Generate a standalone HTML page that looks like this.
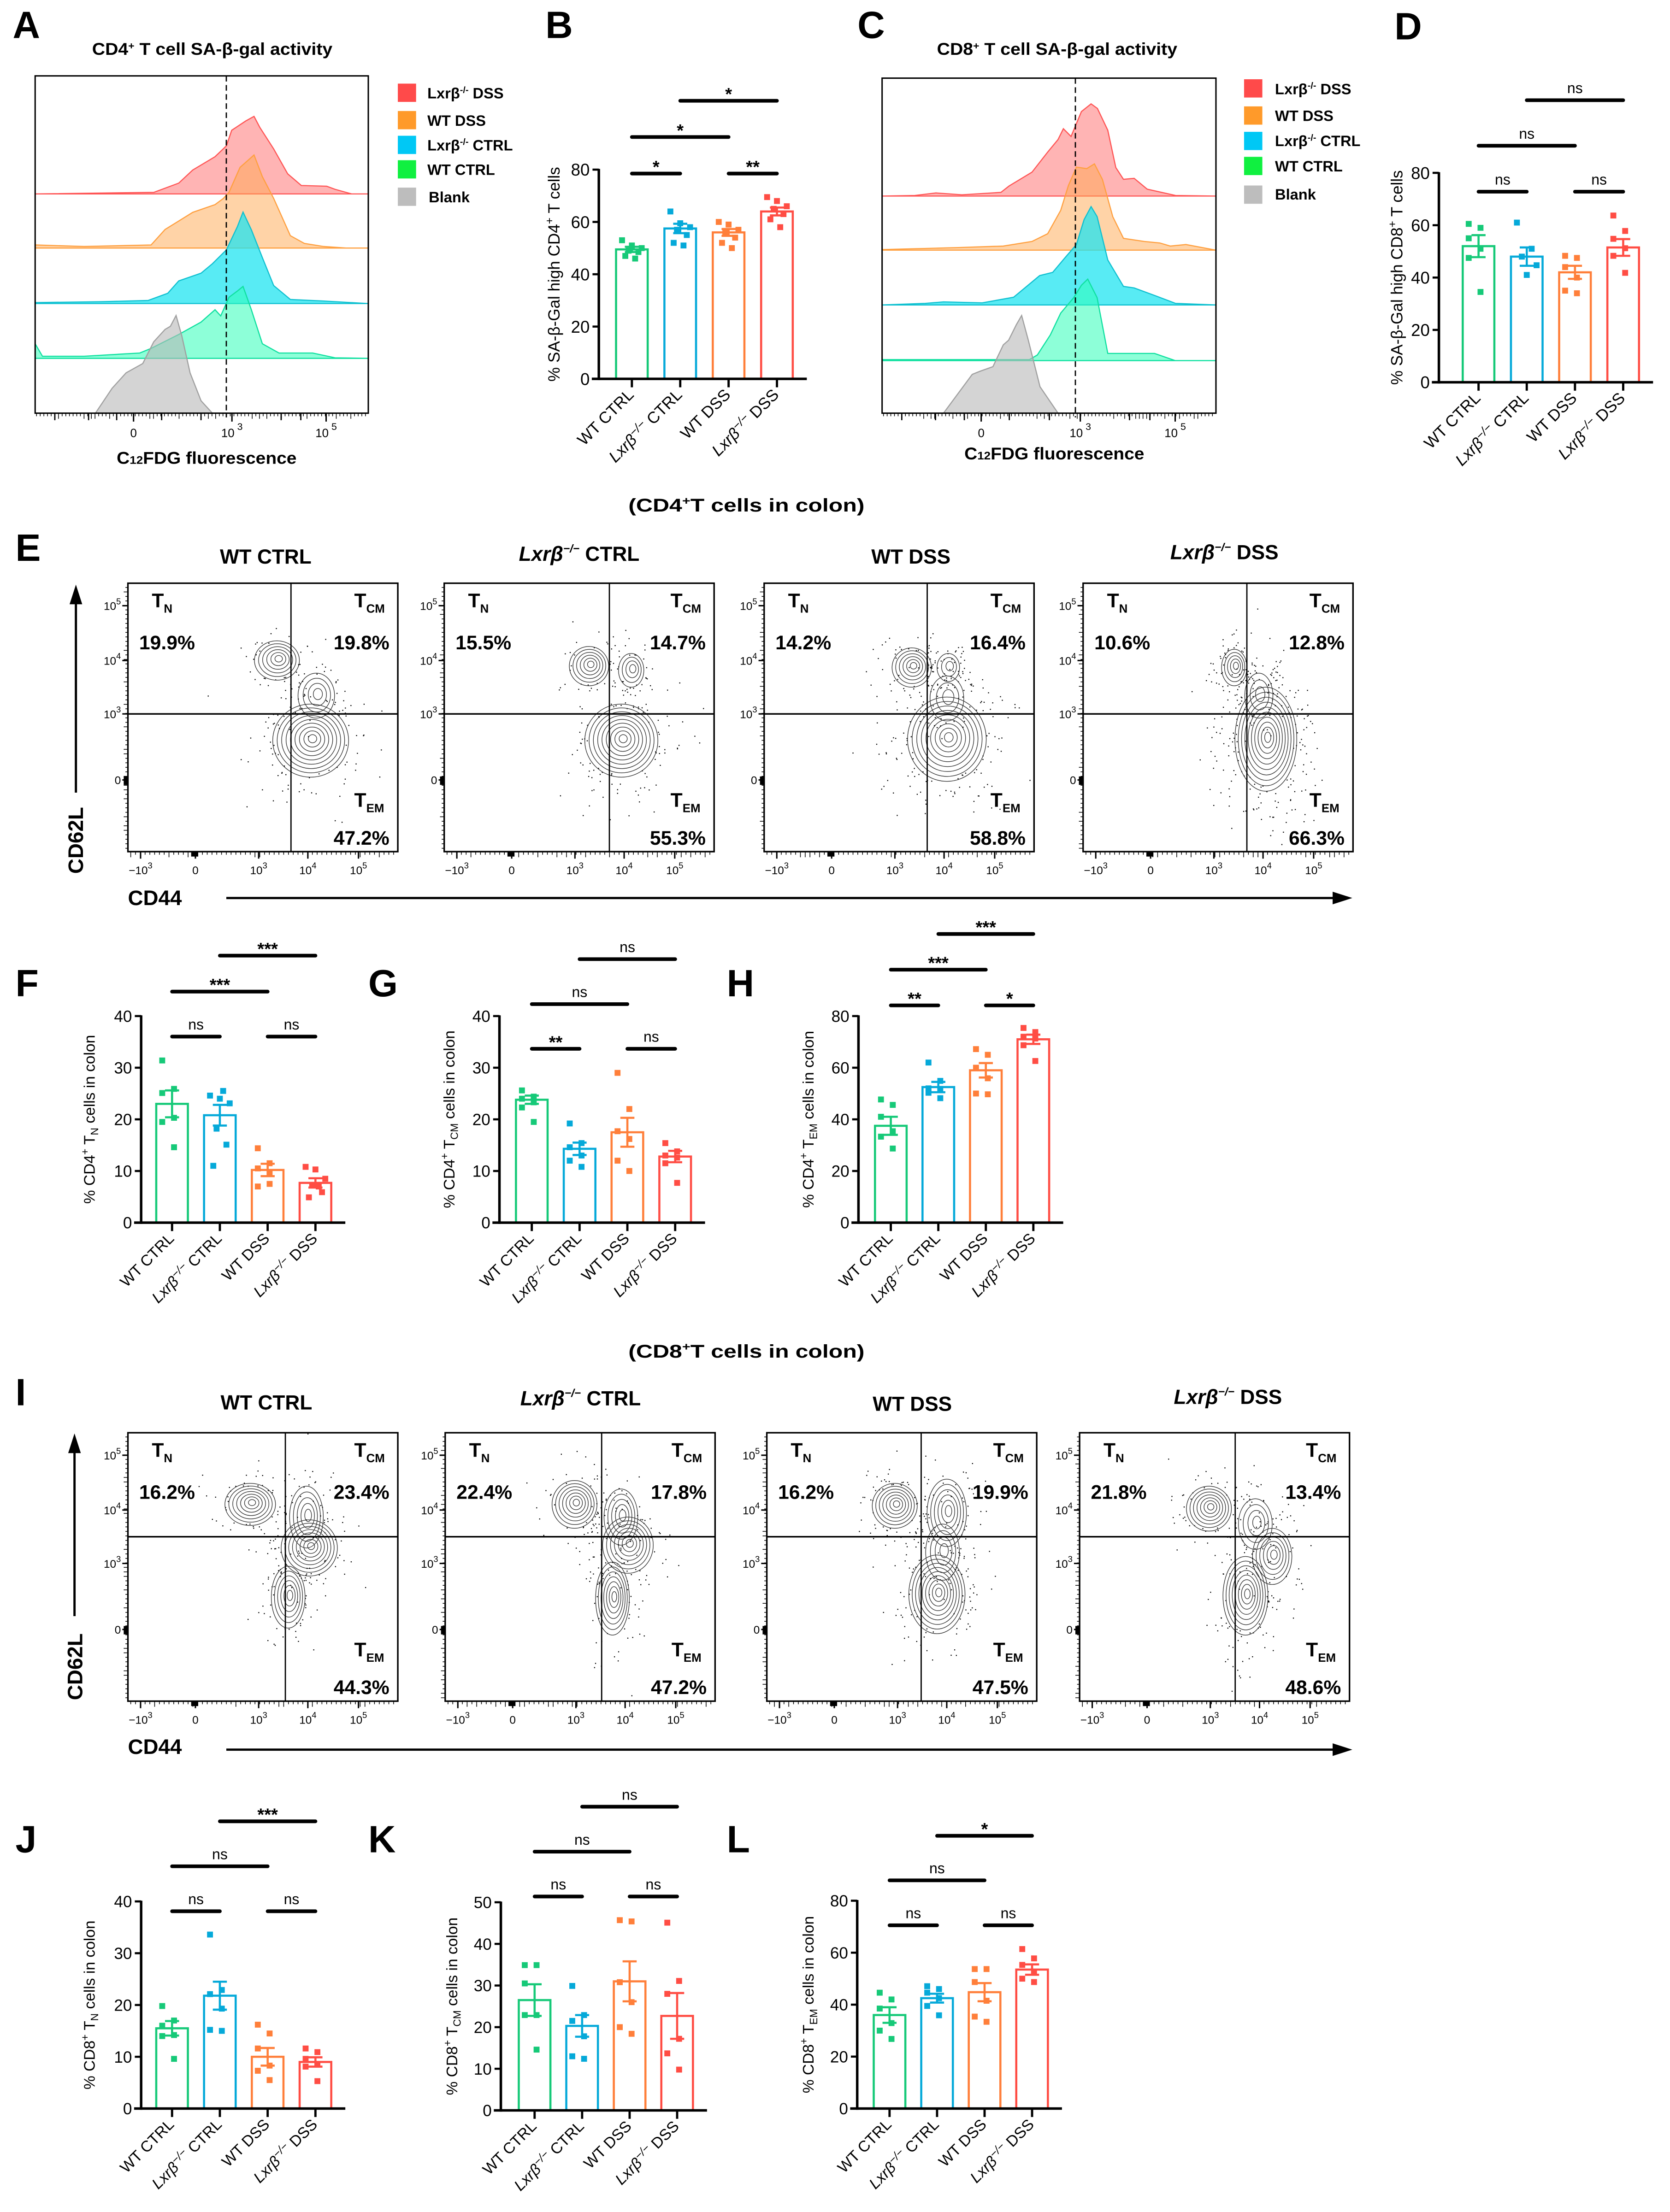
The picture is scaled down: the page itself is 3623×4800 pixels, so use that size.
<!DOCTYPE html>
<html><head><meta charset="utf-8">
<style>
html,body{margin:0;padding:0;background:#fff;}
svg{display:block;font-family:"Liberation Sans",Arial,sans-serif;}
.b{font-weight:bold;}
</style></head>
<body>
<svg id="fig" xmlns="http://www.w3.org/2000/svg" width="3623" height="4800" viewBox="0 0 1188 1574" preserveAspectRatio="none">
<rect x="0" y="0" width="1188" height="1574" fill="#fff"/>
<defs>
<clipPath id="clipA"><rect x="25" y="54" width="237" height="240"/></clipPath>
<clipPath id="clipC"><rect x="627.5" y="55.6" width="237.5" height="238.4"/></clipPath>
</defs>
<g class="b" font-size="27">
<text x="9" y="27">A</text>
<text x="388" y="27">B</text>
<text x="610" y="27">C</text>
<text x="992" y="28">D</text>
<text x="11" y="399">E</text>
<text x="11" y="709">F</text>
<text x="262" y="709">G</text>
<text x="517" y="709">H</text>
<text x="11" y="1000">I</text>
<text x="11" y="1318">J</text>
<text x="262" y="1318">K</text>
<text x="517" y="1318">L</text>
</g>
<text class="b" x="151" y="39" font-size="12" text-anchor="middle" textLength="171" lengthAdjust="spacingAndGlyphs">CD4<tspan font-size="7" dy="-4">+</tspan><tspan dy="4"> T cell SA-β-gal activity</tspan></text>
<text class="b" x="752" y="39" font-size="12" text-anchor="middle" textLength="171" lengthAdjust="spacingAndGlyphs">CD8<tspan font-size="7" dy="-4">+</tspan><tspan dy="4"> T cell SA-β-gal activity</tspan></text>
<text class="b" x="147" y="330" font-size="12" text-anchor="middle" textLength="128" lengthAdjust="spacingAndGlyphs">C<tspan font-size="8">12</tspan>FDG fluorescence</text>
<text class="b" x="750" y="327" font-size="12" text-anchor="middle" textLength="128" lengthAdjust="spacingAndGlyphs">C<tspan font-size="8">12</tspan>FDG fluorescence</text>
<g class="b" font-size="10.7">
<rect x="283" y="59.5" width="13" height="13" fill="#ff4a4a"/>
<text x="304" y="70">Lxrβ<tspan font-size="6.5" dy="-4">-/-</tspan><tspan dy="4"> DSS</tspan></text>
<rect x="283" y="79" width="13" height="13" fill="#ff9a2a"/>
<text x="304" y="89.5">WT DSS</text>
<rect x="283" y="96.6" width="13" height="13" fill="#00c8f5"/>
<text x="304" y="107">Lxrβ<tspan font-size="6.5" dy="-4">-/-</tspan><tspan dy="4"> CTRL</tspan></text>
<rect x="283" y="114" width="13" height="13" fill="#10f040"/>
<text x="304" y="124.5">WT CTRL</text>
<rect x="283" y="133.5" width="13" height="13" fill="#bdbdbd"/>
<text x="305" y="144">Blank</text>
</g>
<g class="b" font-size="10.7">
<rect x="885" y="56.4" width="13" height="13" fill="#ff4a4a"/>
<text x="907" y="67">Lxrβ<tspan font-size="6.5" dy="-4">-/-</tspan><tspan dy="4"> DSS</tspan></text>
<rect x="885" y="75.7" width="13" height="13" fill="#ff9a2a"/>
<text x="907" y="86">WT DSS</text>
<rect x="885" y="93.8" width="13" height="13" fill="#00c8f5"/>
<text x="907" y="104">Lxrβ<tspan font-size="6.5" dy="-4">-/-</tspan><tspan dy="4"> CTRL</tspan></text>
<rect x="885" y="111.6" width="13" height="13" fill="#10f040"/>
<text x="907" y="122">WT CTRL</text>
<rect x="885" y="132" width="13" height="13" fill="#bdbdbd"/>
<text x="907" y="142">Blank</text>
</g>
<text class="b" x="531" y="364" font-size="13" text-anchor="middle" textLength="168" lengthAdjust="spacingAndGlyphs">(CD4<tspan font-size="8" dy="-5">+</tspan><tspan dy="5">T cells in colon)</tspan></text>
<text class="b" x="531" y="966" font-size="13" text-anchor="middle" textLength="168" lengthAdjust="spacingAndGlyphs">(CD8<tspan font-size="8" dy="-5">+</tspan><tspan dy="5">T cells in colon)</tspan></text>
<g class="b" font-size="14.5" text-anchor="middle">
<text x="189" y="401">WT CTRL</text>
<text x="412" y="399"><tspan font-style="italic">Lxrβ</tspan><tspan font-size="8" dy="-6" font-style="italic">−/−</tspan><tspan dy="6"> CTRL</tspan></text>
<text x="648" y="401">WT DSS</text>
<text x="871" y="398"><tspan font-style="italic">Lxrβ</tspan><tspan font-size="8" dy="-6" font-style="italic">−/−</tspan><tspan dy="6"> DSS</tspan></text>
</g>
<g class="b" font-size="14.5" text-anchor="middle">
<text x="189.5" y="1003">WT CTRL</text>
<text x="413" y="1000"><tspan font-style="italic">Lxrβ</tspan><tspan font-size="8" dy="-6" font-style="italic">−/−</tspan><tspan dy="6"> CTRL</tspan></text>
<text x="649" y="1004">WT DSS</text>
<text x="873.5" y="999"><tspan font-style="italic">Lxrβ</tspan><tspan font-size="8" dy="-6" font-style="italic">−/−</tspan><tspan dy="6"> DSS</tspan></text>
</g>
<g>
<line x1="54" y1="564" x2="54" y2="427" stroke="#000" stroke-width="1.6"/>
<polygon points="54,416 49.5,430 58.5,430" fill="#000"/>
<text class="b" font-size="15" text-anchor="middle" transform="translate(59,598) rotate(-90)">CD62L</text>
<text class="b" x="91" y="644" font-size="15">CD44</text>
<line x1="161" y1="639" x2="950" y2="639" stroke="#000" stroke-width="1.6"/>
<polygon points="962,639 948,634.5 948,643.5" fill="#000"/>
</g>
<g>
<line x1="53" y1="1150" x2="53" y2="1032" stroke="#000" stroke-width="1.6"/>
<polygon points="53,1020 48.5,1034 57.5,1034" fill="#000"/>
<text class="b" font-size="15" text-anchor="middle" transform="translate(58.5,1186) rotate(-90)">CD62L</text>
<text class="b" x="91" y="1248" font-size="15">CD44</text>
<line x1="161" y1="1245" x2="950" y2="1245" stroke="#000" stroke-width="1.6"/>
<polygon points="962,1245 948,1240.5 948,1249.5" fill="#000"/>
</g>
</svg>
<script>
const groupNames = ['WT CTRL', 'Lxrβ−/− CTRL', 'WT DSS', 'Lxrβ−/− DSS'];
const groupColors = ['#16c978', '#05a9d9', '#ff7f3a', '#ff4d44'];

const bMeans = [49.5, 57.5, 56, 64];
const bSems = [1, 1.8, 1.3, 1.5];
const bPts = [[53,51,50,49,48.5,47,46],[64,59.5,58,57,55,52,51],[60,59,57,56,54,52,50],[69.5,68,66,65,63,61,58]];
const dMeans = [52, 48, 42, 51.5];
const dSems = [4.2, 3.5, 2.5, 3.2];
const dPts = [[60.5,59,55,51,47.5,34.5],[61,51,48,44.7,41],[48.3,47.5,44,40,35,34],[63.7,57.8,54.8,51.2,48.3,41.8]];
const fMeans = [23, 20.8, 10.2, 7.7];
const fSems = [2.6, 2, 1.2, 0.9];
const fPts = [[31.4,25.9,25.1,20.3,19.5,14.6],[24.6,24,23.1,18.2,15.1,11,25.5],[14.4,11.5,10.5,9.5,7,7.5],[10.8,10.3,8.5,7.2,5.9,4.9,7]];
const gMeans = [23.8, 14.3, 17.5, 12.8];
const gSems = [0.8, 1.2, 2.8, 1.1];
const gPts = [[25.6,24.4,24,23.3,22.3,19.5],[19.2,15.4,14.6,13,12,10.8],[29,22,17.7,16.2,12,10],[15.4,13.8,13,12.6,11.5,7.7]];
const hMeans = [37.5, 52.5, 59, 71];
const hSems = [3.5, 2, 2.8, 1.8];
const hPts = [[47.7,45.6,41,35.4,33.3,28.7],[62,54.9,52,51.8,50.3,48.2],[67.2,65,60,55.9,50,49.7],[75.4,73.8,72,71.3,68.7,62.6]];
const jMeans = [15.5, 21.8, 10, 9];
const jSems = [1.4, 2.7, 1.7, 0.9];
const jPts = [[19.8,17,16,14.2,14,9.6],[33.6,22.9,22.1,19.3,15.2,15],[16.2,14.5,11.6,8.3,7.3,5.5],[11.6,10.9,9.6,8.6,8.1,5.3]];
const kMeans = [26.5, 20.3, 31, 22.7];
const kSems = [3.8, 2.6, 4.8, 5.5];
const kPts = [[34.9,34.9,30.5,22.9,22.9,14.6],[29.9,22.9,21.5,17.8,13,12.4],[45.7,45.4,30.8,26,20,18.4],[45.1,31.1,28,17.2,13.7,9.8]];
const lMeans = [36, 42.5, 44.8, 53.5];
const lSems = [3, 1.7, 3.5, 2];
const lPts = [[44.6,42,38.5,32.9,30,26.8],[47.1,46,44.6,42.5,39.5,35.9],[53.7,53.7,48.7,41.5,35.4,33.4],[61.4,57.8,55.3,52.7,50,48.7]];

const bSig = [['0-1','*'],['2-3','**'],['0-2','*'],['1-3','*']];
const dSig = [['0-1','ns'],['2-3','ns'],['0-2','ns'],['1-3','ns']];
const fSig = [['0-1','ns'],['2-3','ns'],['0-2','***'],['1-3','***']];
const gSig = [['0-1','**'],['2-3','ns'],['0-2','ns'],['1-3','ns']];
const hSig = [['0-1','**'],['2-3','*'],['0-2','***'],['1-3','***']];
const jSig = [['0-1','ns'],['2-3','ns'],['0-2','ns'],['1-3','***']];
const kSig = [['0-1','ns'],['2-3','ns'],['0-2','ns'],['1-3','ns']];
const lSig = [['0-1','ns'],['2-3','ns'],['0-2','ns'],['1-3','*']];

const aRedT = [0,.356,.431,.473,.540,.574,.590,.632,.657,.674,.716,.758,.799,.875,.900,.950,1];
const aRedH = [0,1.1,7.7,17,26.5,34.2,45.3,51.9,55.2,47.5,32,14.3,6,5.5,3.3,0,0];
const aOrgT = [0,.147,.348,.390,.473,.540,.565,.582,.615,.657,.682,.716,.766,.808,.866,.933,1];
const aOrgH = [2.2,1.1,2.2,13.2,25.4,30.9,35.3,39.7,57.4,66.2,50.8,35.3,8.8,3.3,1.1,0,0];
const aCyaT = [0,.197,.339,.398,.431,.498,.532,.574,.607,.624,.649,.682,.716,.766,.866,1];
const aCyaH = [.7,1.3,2.2,7.3,16.1,21.6,28.3,38.2,54.7,65.1,52.5,32.7,12.8,2.9,1.8,0];
const aGrnT = [0,.022,.147,.314,.348,.431,.498,.540,.557,.582,.607,.624,.649,.682,.732,.833,.900,1];
const aGrnH = [10.4,1.5,1.5,3.8,7.1,17,25.8,34.6,30.2,43.5,47.9,51.2,34.6,10.4,3.8,3.8,.4,0];
const aGryT = [.181,.231,.273,.323,.356,.390,.406,.423,.440,.465,.498,.532];
const aGryH = [0,17.7,28.7,35.3,50.8,59.6,61.8,69.5,55.2,28.7,8.8,0];
const cRedT = [0,.098,.161,.239,.356,.380,.449,.496,.527,.543,.566,.597,.626,.645,.676,.700,.723,.755,.794,.879,1];
const cRedH = [0,.4,2.2,.9,2.6,7.1,17,31.3,40.2,47.9,42.4,60.1,65.6,62.3,46.8,20.3,11.9,12.6,4.9,.4,0];
const cOrgT = [0,.223,.363,.449,.496,.535,.558,.582,.613,.636,.660,.691,.723,.785,.832,.863,.910,1];
const cOrgH = [.4,1.8,2.9,6.2,11.7,28.3,45.9,59.1,58,61.4,50.3,23.8,8.4,6.2,5.1,2.9,4,0];
const cCyaT = [0,.129,.184,.300,.394,.472,.511,.550,.582,.605,.626,.644,.676,.723,.755,.818,.879,1];
const cCyaH = [0,1.1,2.2,1.5,5.5,20.9,23.2,34.2,43,60.7,70,62.9,32,13.2,12.1,6.6,1.1,0];
const cGrnT = [0,.441,.465,.504,.535,.574,.597,.616,.644,.676,.753,.816,.878,1];
const cGrnH = [.7,.7,4,18.3,33.8,44.8,53.6,58,44.8,5.1,5.1,5.1,0,0];
const cGryT = [.184,.270,.293,.332,.363,.379,.402,.418,.438,.473,.527];
const cGryH = [0,27.6,29.8,33.1,48.6,51.9,62.9,69.5,51.9,18.8,0];

const ePct = [['19.9%','19.8%','47.2%'],['15.5%','14.7%','55.3%'],['14.2%','16.4%','58.8%'],['10.6%','12.8%','66.3%']];
const iPct = [['16.2%','23.4%','44.3%'],['22.4%','17.8%','47.2%'],['16.2%','19.9%','47.5%'],['21.8%','13.4%','48.6%']];

const NS = 'http://www.w3.org/2000/svg';
const svg = document.getElementById('fig');
function mk(tag, attrs, parent) {
  const e = document.createElementNS(NS, tag);
  for (const k in attrs) e.setAttribute(k, attrs[k]);
  (parent || svg).appendChild(e);
  return e;
}
function addSpan(t, str, attrs) {
  const s = document.createElementNS(NS, 'tspan');
  for (const k in attrs) s.setAttribute(k, attrs[k]);
  s.textContent = str;
  t.appendChild(s);
  return s;
}
let seed = 12345;
function rnd() { seed = (seed * 1103515245 + 12345) % 2147483648; return seed / 2147483648; }
function gauss() { let u = rnd() || 1e-6, v = rnd(); return Math.sqrt(-2 * Math.log(u)) * Math.cos(2 * Math.PI * v); }

function histogram(key, bx, by, bw, bh, dashX, bases, series, tickX, clipId) {
  const g = mk('g', {});
  
  
  const cg = mk('g', {'clip-path': 'url(#' + clipId + ')'}, g);
  series.forEach((s, i) => {
    const base = bases[i];
    let d = 'M' + (bx + s.t[0] * bw) + ',' + base;
    for (let k = 0; k < s.t.length; k++) d += ' L' + (bx + s.t[k] * bw).toFixed(2) + ',' + (base - s.h[k]).toFixed(2);
    d += ' L' + (bx + s.t[s.t.length - 1] * bw) + ',' + base + ' Z';
    const p = mk('path', {d: d, fill: s.fill, 'fill-opacity': s.op, stroke: s.stroke, 'stroke-width': 0.8}, cg);
    
    
  });
  const dl = mk('line', {x1: dashX, y1: by, x2: dashX, y2: by + bh + 3, stroke: '#000', 'stroke-width': 0.9, 'stroke-dasharray': '4,2.5'}, g);
  
  
  const fr = mk('rect', {x: bx, y: by, width: bw, height: bh, fill: 'none', stroke: '#000', 'stroke-width': 1}, g);
  
  
  const yb = by + bh;
  for (let x = bx + 1; x < bx + bw; x += 2.6) {
    const len = rnd() < 0.25 ? 4 : 2.2;
    mk('line', {x1: x.toFixed(2), y1: yb, x2: x.toFixed(2), y2: yb + len, stroke: '#000', 'stroke-width': 0.5}, g);
  }
  [[tickX[0], '0', ''], [tickX[1], '10', '3'], [tickX[2], '10', '5']].forEach(tk => {
    mk('line', {x1: tk[0], y1: yb, x2: tk[0], y2: yb + 6, stroke: '#000', 'stroke-width': 1}, g);
    const t = mk('text', {x: tk[0], y: yb + 17, 'font-size': 8.5, 'text-anchor': 'middle'}, g);
    
    
    addSpan(t, tk[1], {});
    if (tk[2]) addSpan(t, ' ' + tk[2], {'font-size': 7, dy: -5});
  });
  [bx + 14, bx + 38, tickX[0] - 12, tickX[0] + 20, tickX[1] - 22, tickX[1] + 35, tickX[2] - 18].forEach(x => {
    mk('line', {x1: x, y1: yb, x2: x, y2: yb + 5, stroke: '#000', 'stroke-width': 0.9}, g);
  });
}
histogram('a', 25, 54, 237, 240, 161, [138, 176.5, 216, 255, 294], [
  {name: 'lxrb-dss', t: aRedT, h: aRedH, fill: '#ff6a6a', op: 0.5, stroke: '#ff5555'},
  {name: 'wt-dss', t: aOrgT, h: aOrgH, fill: '#ffa850', op: 0.5, stroke: '#ffa040'},
  {name: 'lxrb-ctrl', t: aCyaT, h: aCyaH, fill: '#20e4f0', op: 0.75, stroke: '#10c0d0'},
  {name: 'wt-ctrl', t: aGrnT, h: aGrnH, fill: '#30ffb8', op: 0.55, stroke: '#10e0a0'},
  {name: 'blank', t: aGryT, h: aGryH, fill: '#b8b8b8', op: 0.6, stroke: '#a0a0a0'}
], [95, 165, 232], 'clipA');
histogram('c', 627.5, 55.6, 237.5, 238.4, 765, [139.5, 178, 217, 256.6, 294], [
  {name: 'lxrb-dss', t: cRedT, h: cRedH, fill: '#ff6a6a', op: 0.5, stroke: '#ff5555'},
  {name: 'wt-dss', t: cOrgT, h: cOrgH, fill: '#ffa850', op: 0.5, stroke: '#ffa040'},
  {name: 'lxrb-ctrl', t: cCyaT, h: cCyaH, fill: '#20e4f0', op: 0.75, stroke: '#10c0d0'},
  {name: 'wt-ctrl', t: cGrnT, h: cGrnH, fill: '#30ffb8', op: 0.55, stroke: '#10e0a0'},
  {name: 'blank', t: cGryT, h: cGryH, fill: '#b8b8b8', op: 0.6, stroke: '#a0a0a0'}
], [698, 768.5, 836], 'clipC');

function barChart(key, cfg) {
  const g = mk('g', {});
  
  
  const {ax, y0, yTop, yMax, step, off, sp, means, sems, pts, sigs, sigY, ylab, ylabDx, fs} = cfg;
  const yS = v => y0 - v / yMax * (y0 - yTop);
  const xC = i => ax + off + i * sp;
  const bw = 22.5;
  means.forEach((m, i) => {
    const c = xC(i), col = groupColors[i];
    const r = mk('rect', {x: c - bw / 2, y: yS(m), width: bw, height: y0 - yS(m), fill: 'none', stroke: col, 'stroke-width': 1.5}, g);
    
    
    const e = mk('path', {d: 'M' + c + ',' + yS(m - sems[i]) + ' L' + c + ',' + yS(m + sems[i]) + ' M' + (c - 5) + ',' + yS(m + sems[i]) + ' L' + (c + 5) + ',' + yS(m + sems[i]) + ' M' + (c - 5) + ',' + yS(m - sems[i]) + ' L' + (c + 5) + ',' + yS(m - sems[i]), stroke: col, 'stroke-width': 1.5, fill: 'none'}, g);
    
    
    const n = pts[i].length;
    pts[i].forEach((v, k) => {
      const jx = n > 1 ? -7 + 14 * ((k * 3) % n) / (n - 1) : 0;
      const p = mk('rect', {x: c + jx - 2.1, y: yS(v) - 2.1, width: 4.2, height: 4.2, fill: col}, g);
      
      
    });
  });
  const xEnd = xC(3) + bw / 2 + 10;
  const ya = mk('line', {x1: ax, y1: y0 + 0.9, x2: ax, y2: yTop - 0.5, stroke: '#000', 'stroke-width': 1.8}, g);
  
  
  const xa = mk('line', {x1: ax - 5, y1: y0, x2: xEnd, y2: y0, stroke: '#000', 'stroke-width': 1.8}, g);
  
  
  for (let v = 0; v <= yMax + 1e-9; v += step) {
    mk('line', {x1: ax - 4.5, y1: yS(v), x2: ax, y2: yS(v), stroke: '#000', 'stroke-width': 1.5}, g);
    const t = mk('text', {x: ax - 6.5, y: yS(v) + fs * 0.36, 'font-size': fs, 'text-anchor': 'end'}, g);
    
    
    t.textContent = String(v);
  }
  groupNames.forEach((nm, i) => {
    const c = xC(i);
    mk('line', {x1: c, y1: y0, x2: c, y2: y0 + 6, stroke: '#000', 'stroke-width': 1.6}, g);
    const t = mk('text', {'font-size': fs - 0.5, 'text-anchor': 'end', transform: 'translate(' + (c + 2) + ',' + (y0 + 12) + ') rotate(-45)'}, g);
    
    
    if (nm.startsWith('Lxr')) {
      addSpan(t, 'Lxrβ', {'font-style': 'italic'});
      addSpan(t, '−/−', {'font-size': fs - 3.5, dy: -4, 'font-style': 'italic'});
      addSpan(t, nm.slice(7), {dy: 4});
    } else {
      t.textContent = nm;
    }
  });
  sigs.forEach((s, k) => {
    const [a, b] = s[0].split('-').map(Number);
    const yy = sigY[k];
    const l = mk('line', {x1: xC(a), y1: yy, x2: xC(b), y2: yy, stroke: '#000', 'stroke-width': 2.6, 'stroke-linecap': 'round'}, g);
    
    
    const star = s[1] !== 'ns';
    const t = mk('text', {x: (xC(a) + xC(b)) / 2, y: star ? yy - 0.5 : yy - 5, 'font-size': star ? 12.5 : 10.5, 'font-weight': star ? 'bold' : 'normal', 'text-anchor': 'middle'}, g);
    
    
    t.textContent = s[1];
  });
  const yl = mk('text', {'font-size': fs - 0.5, 'text-anchor': 'middle', transform: 'translate(' + (ax - ylabDx) + ',' + ((y0 + yTop) / 2) + ') rotate(-90)'}, g);
  
  
  ylab.forEach(p => {
    if (p[1] === 'sup') addSpan(yl, p[0], {'font-size': fs - 4, dy: -4.5});
    else if (p[1] === 'sub') addSpan(yl, p[0], {'font-size': fs - 4, dy: 2.5});
    else if (p[1] === 'down') addSpan(yl, p[0], {dy: 4.5});
    else if (p[1] === 'up') addSpan(yl, p[0], {dy: -2.5});
    else addSpan(yl, p[0], {});
  });
}
const lab4 = (pre, sub) => [['% ' + pre, ''], ['+', 'sup'], [' T', 'down'], [sub, 'sub'], [' cells in colon', 'up']];
barChart('b', {ax: 426, y0: 269.6, yTop: 120.7, yMax: 80, step: 20, off: 23.5, sp: 34.4, means: bMeans, sems: bSems, pts: bPts, sigs: bSig, sigY: [123.5, 123.5, 97.5, 71.7], ylabDx: 28, fs: 12,
  ylab: [['% SA-β-Gal high CD4', ''], ['+', 'sup'], [' T cells', 'down']]});
barChart('d', {ax: 1023.6, y0: 272, yTop: 123, yMax: 80, step: 20, off: 28.2, sp: 34.3, means: dMeans, sems: dSems, pts: dPts, sigs: dSig, sigY: [136.4, 136.4, 103.7, 71.3], ylabDx: 26, fs: 12,
  ylab: [['% SA-β-Gal high CD8', ''], ['+', 'sup'], [' T cells', 'down']]});
barChart('f', {ax: 100.4, y0: 870, yTop: 723, yMax: 40, step: 10, off: 22, sp: 34, means: fMeans, sems: fSems, pts: fPts, sigs: fSig, sigY: [737.6, 737.6, 705.6, 680], ylabDx: 33, fs: 11.5, ylab: lab4('CD4', 'N')});
barChart('g', {ax: 355.3, y0: 870, yTop: 723, yMax: 40, step: 10, off: 23, sp: 34, means: gMeans, sems: gSems, pts: gPts, sigs: gSig, sigY: [746.3, 746.3, 714.5, 682.5], ylabDx: 32, fs: 11.5, ylab: lab4('CD4', 'CM')});
barChart('h', {ax: 610.7, y0: 870, yTop: 723, yMax: 80, step: 20, off: 23, sp: 33.8, means: hMeans, sems: hSems, pts: hPts, sigs: hSig, sigY: [715.4, 715.4, 690, 664.6], ylabDx: 32, fs: 11.5, ylab: lab4('CD4', 'EM')});
barChart('j', {ax: 100.4, y0: 1500.4, yTop: 1353, yMax: 40, step: 10, off: 22, sp: 34, means: jMeans, sems: jSems, pts: jPts, sigs: jSig, sigY: [1360, 1360, 1328, 1296], ylabDx: 33, fs: 11.5, ylab: lab4('CD8', 'N')});
barChart('k', {ax: 356.3, y0: 1501.7, yTop: 1353.6, yMax: 50, step: 10, off: 24, sp: 33.8, means: kMeans, sems: kSems, pts: kPts, sigs: kSig, sigY: [1349.5, 1349.5, 1317.6, 1285.6], ylabDx: 31, fs: 11.5, ylab: lab4('CD8', 'CM')});
barChart('l', {ax: 609.8, y0: 1500.4, yTop: 1352.5, yMax: 80, step: 20, off: 23, sp: 33.8, means: lMeans, sems: lSems, pts: lPts, sigs: lSig, sigY: [1370, 1370, 1338, 1306.3], ylabDx: 31, fs: 11.5, ylab: lab4('CD8', 'EM')});

function flowPlot(key, bx, by, vx, hy, pct, clusters) {
  const W = 192, H = 191;
  const g = mk('g', {});
  
  
  const cid = 'clip-' + key;
  const cp = mk('clipPath', {id: cid}, g);
  mk('rect', {x: bx, y: by, width: W, height: H}, cp);
  const inner = mk('g', {'clip-path': 'url(#' + cid + ')'}, g);
  clusters.forEach(c => {
    const [cx, cy, rx, ry, rings, dots] = c;
    for (let k = 0; k < dots * 2; k++) {
      const dx = gauss() * rx * 0.8, dy = gauss() * ry * 0.8;
      const rr = (dx * dx) / (rx * rx) + (dy * dy) / (ry * ry);
      if (rr < 0.8) continue;
      mk('rect', {x: (bx + cx + dx).toFixed(2), y: (by + cy + dy).toFixed(2), width: 0.75, height: 0.75, fill: '#000'}, inner);
    }
    for (let k = 1; k <= rings; k++) {
      const s = k / rings;
      mk('ellipse', {cx: bx + cx + (1 - s) * 1.5, cy: by + cy - (1 - s) * 1.5, rx: (rx * s).toFixed(2), ry: (ry * s).toFixed(2), fill: 'none', stroke: '#333', 'stroke-width': 0.45}, inner);
    }
  });
  const fr = mk('rect', {x: bx, y: by, width: W, height: H, fill: 'none', stroke: '#000', 'stroke-width': 1.1}, g);
  
  
  const gv = mk('line', {x1: bx + vx, y1: by, x2: bx + vx, y2: by + H, stroke: '#000', 'stroke-width': 0.9}, g);
  
  
  const gh = mk('line', {x1: bx, y1: by + hy, x2: bx + W, y2: by + hy, stroke: '#000', 'stroke-width': 1.1}, g);
  
  
  for (let y = by + 3; y < by + H; y += 3.2) mk('line', {x1: bx - (rnd() < 0.2 ? 3 : 1.8), y1: y.toFixed(2), x2: bx, y2: y.toFixed(2), stroke: '#000', 'stroke-width': 0.5}, g);
  [[16, '10', '5'], [55, '10', '4'], [93, '10', '3'], [140, '0', '']].forEach(t => {
    mk('line', {x1: bx - 4, y1: by + t[0], x2: bx, y2: by + t[0], stroke: '#000', 'stroke-width': 1}, g);
    const tx = mk('text', {x: bx - 5, y: by + t[0] + 3, 'font-size': 8, 'text-anchor': 'end'}, g);
    
    
    addSpan(tx, t[1], {});
    if (t[2]) addSpan(tx, t[2], {'font-size': 6, dy: -4});
  });
  mk('rect', {x: bx - 3, y: by + 137.5, width: 3, height: 6, fill: '#000'}, g);
  for (let x = bx + 2; x < bx + W; x += 3.4) mk('line', {x1: x.toFixed(2), y1: by + H, x2: x.toFixed(2), y2: by + H + (rnd() < 0.2 ? 4 : 2.2), stroke: '#000', 'stroke-width': 0.5}, g);
  mk('rect', {x: bx + 45, y: by + H, width: 5, height: 3.5, fill: '#000'}, g);
  [[9, '−10', '3'], [48, '0', ''], [93, '10', '3'], [128, '10', '4'], [164, '10', '5']].forEach(t => {
    mk('line', {x1: bx + t[0], y1: by + H, x2: bx + t[0], y2: by + H + 5, stroke: '#000', 'stroke-width': 1}, g);
    const tx = mk('text', {x: bx + t[0], y: by + H + 16, 'font-size': 8, 'text-anchor': 'middle'}, g);
    
    
    addSpan(tx, t[1], {});
    if (t[2]) addSpan(tx, t[2], {'font-size': 6, dy: -4});
  });
  const ql = [[22, 17, 'N'], [166, 17, 'CM'], [166, 159, 'EM']];
  ql.forEach(q => {
    const t = mk('text', {x: bx + q[0] - 5, y: by + q[1], 'font-size': 14, 'font-weight': 'bold'}, g);
    
    
    addSpan(t, 'T', {});
    addSpan(t, q[2], {'font-size': 8.5, dy: 4});
  });
  const pp = [[8, 48, 'start'], [W - 6, 48, 'end'], [W - 6, 187, 'end']];
  pct.forEach((v, i) => {
    const t = mk('text', {x: bx + pp[i][0], y: by + pp[i][1] - 1, 'font-size': 14, 'font-weight': 'bold', 'text-anchor': pp[i][2]}, g);
    
    
    t.textContent = v;
  });
}
const eBoxX = [91, 316, 543.6, 770.5];
const eGateX = [116, 117.5, 116, 116.5];
const eClusters = [
  [[106,55,16,14,6,30],[130,112,27,26,9,80],[134,80,13,16,4,30]],
  [[103,59,14,14,6,30],[133,62,9,12,4,25],[126,112,26,26,9,90]],
  [[105,60,14,14,6,45],[131,60,8,10,3,25],[130,111,28,30,9,120],[130,82,12,16,3,30]],
  [[107.5,60,9,13,5,45],[130,111,22,37,10,160],[125,80,10,16,3,50]]
];
for (let i = 0; i < 4; i++) flowPlot('e' + i, eBoxX[i], 415, eGateX[i], 93, ePct[i], eClusters[i]);
const iBoxX = [91, 316.7, 545.5, 768];
const iGateX = [112, 111.3, 109.8, 110.7];
const iClusters = [
  [[87,51,18,15,7,40],[127,60,12,22,5,40],[129,82,20,20,8,60],[114,117,12,22,6,40]],
  [[92,51,16,17,7,40],[125,60,12,20,5,30],[130,80,18,20,7,50],[119,118,12,26,7,40]],
  [[91,52,16,16,7,50],[128,57,14,24,6,40],[121,115,20,28,9,70],[125,85,12,20,4,40]],
  [[92,54,16,16,7,50],[137,88,14,20,6,40],[118,116,16,28,8,70],[125,65,12,18,4,30]]
];
for (let i = 0; i < 4; i++) flowPlot('i' + i, iBoxX[i], 1019.5, iGateX[i], 74, iPct[i], iClusters[i]);
</script>
</body></html>
